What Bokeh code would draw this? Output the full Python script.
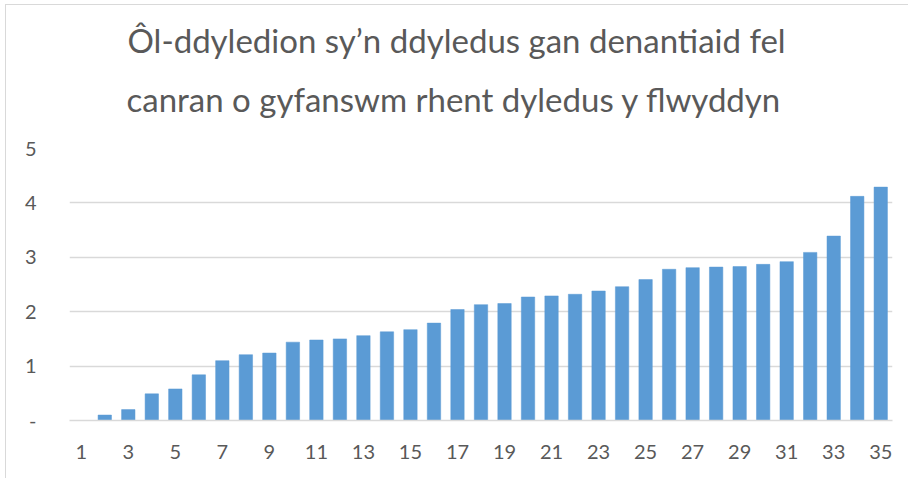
from bokeh.plotting import figure
from bokeh.models import FixedTicker, Title
from bokeh.embed import file_html
from bokeh.resources import INLINE

categories = list(range(1, 36))
values = [0.0, 0.10, 0.20, 0.49, 0.58, 0.84, 1.10, 1.21, 1.24, 1.44,
          1.48, 1.50, 1.56, 1.63, 1.67, 1.79, 2.04, 2.13, 2.15, 2.27,
          2.29, 2.32, 2.38, 2.46, 2.59, 2.78, 2.81, 2.82, 2.83, 2.87,
          2.92, 3.09, 3.39, 4.12, 4.29]
x_ticks = list(range(1, 36, 2))
y_ticks = [0, 1, 2, 3, 4, 5]
y_labels = {0: "-", 1: "1", 2: "2", 3: "3", 4: "4", 5: "5"}
title_lines = ["Ôl-ddyledion sy’n ddyledus gan denantiaid fel",
               "canran o gyfanswm rhent dyledus y flwyddyn"]

FONT = "Lato"
GRAY = "#595959"

p = figure(width=903, height=474, output_backend="svg", toolbar_location=None,
           x_range=(0.5, 35.5), y_range=(0, 5),
           min_border_left=63, min_border_right=17, min_border_bottom=59, min_border_top=143)

# two title lines (first item in "above" sits nearest the frame)
p.add_layout(Title(text=title_lines[1], align="left", offset=57, standoff=59,
                   text_font=FONT, text_font_size="33px", text_font_style="normal",
                   text_color=GRAY), "above")
p.add_layout(Title(text=title_lines[0], align="left", offset=58, standoff=-24,
                   text_font=FONT, text_font_size="33px", text_font_style="normal",
                   text_color=GRAY), "above")

p.vbar(x=categories, top=values, width=0.57, bottom=0,
       fill_color="#5b9bd5", line_color="#5b9bd5", line_width=0.5)

p.outline_line_color = None
p.xgrid.grid_line_color = None
p.ygrid.grid_line_color = "#d9d9d9"
p.ygrid.grid_line_width = 1.3
p.ygrid.ticker = FixedTicker(ticks=y_ticks)

p.xaxis.ticker = FixedTicker(ticks=x_ticks)
p.xaxis.axis_line_color = "#d9d9d9"
p.xaxis.axis_line_width = 1.3
p.xaxis.major_tick_line_color = None
p.xaxis.minor_tick_line_color = None
p.xaxis.major_label_text_font = FONT
p.xaxis.major_label_text_font_size = "20px"
p.xaxis.major_label_text_color = GRAY
p.xaxis.major_label_standoff = 18

p.yaxis.ticker = FixedTicker(ticks=y_ticks)
p.yaxis.major_label_overrides = y_labels
p.yaxis.axis_line_color = None
p.yaxis.major_tick_line_color = None
p.yaxis.minor_tick_line_color = None
p.yaxis.major_label_text_font = FONT
p.yaxis.major_label_text_font_size = "20px"
p.yaxis.major_label_text_color = GRAY
p.yaxis.major_label_standoff = 27

p.styles = {"border-left": "1px solid #d9d9d9", "border-top": "1px solid #d9d9d9",
            "margin-left": "5px", "margin-top": "4px"}

open("out.html", "w").write(file_html(p, INLINE))
